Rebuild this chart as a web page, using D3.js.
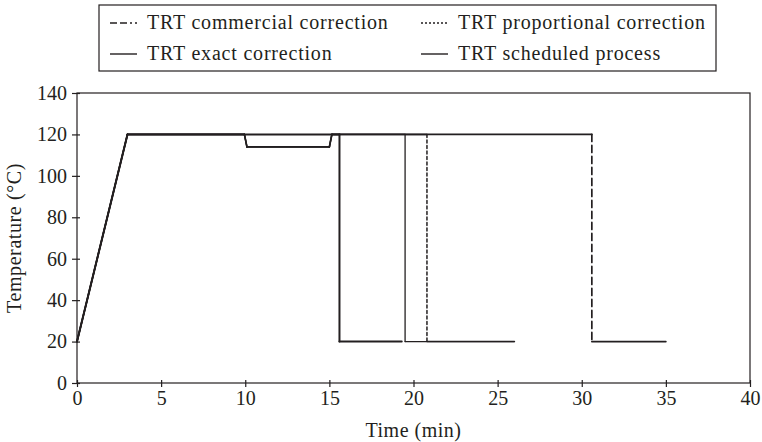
<!DOCTYPE html>
<html>
<head>
<meta charset="utf-8">
<script src="https://cdn.jsdelivr.net/npm/d3@7"></script>
<style>
  html, body { margin: 0; padding: 0; background: #fff; }
  svg { display: block; }
  text { font-family: "Liberation Serif", "Times New Roman", serif; fill: #231f20; }
</style>
</head>
<body>
<svg id="chart" width="762" height="442"></svg>
<script>
// Time axis ticks (min) and temperature axis ticks (°C)
const timeTicks = [0, 5, 10, 15, 20, 25, 30, 35, 40];
const tempTicks = [0, 20, 40, 60, 80, 100, 120, 140];

// Each thermal profile as [time (min), temperature (°C)] points
const scheduledProcess = [[0, 20], [3, 120], [15.6, 120], [15.6, 20], [19.3, 20]];
const exactCorrection = [[0, 20], [3, 120], [9.95, 120], [10.1, 114], [15.0, 114], [15.15, 120],
                         [19.5, 120], [19.5, 20], [26, 20]];
const proportionalCorrection = [[0, 20], [3, 120], [9.95, 120], [10.1, 114], [15.0, 114], [15.15, 120],
                                [20.8, 120], [20.8, 20], [26, 20]];
const commercialCorrection = [[0, 20], [3, 120], [9.95, 120], [10.1, 114], [15.0, 114], [15.15, 120],
                              [30.6, 120], [30.6, 20], [35, 20]];

const legendLabels = ["TRT commercial correction", "TRT proportional correction",
                      "TRT exact correction", "TRT scheduled process"];

const ink = "#231f20";
const svg = d3.select("#chart");

const x = d3.scaleLinear().domain([0, 40]).range([77, 750]);
const y = d3.scaleLinear().domain([0, 140]).range([383, 93]);

// Plot frame
svg.append("rect")
  .attr("x", x(0)).attr("y", y(140))
  .attr("width", x(40) - x(0)).attr("height", y(0) - y(140))
  .attr("fill", "none").attr("stroke", ink).attr("stroke-width", 1.2);

// Axes; tick marks cross the frame line
const xAxis = svg.append("g").attr("transform", `translate(0,${y(0)})`)
  .call(d3.axisBottom(x).tickValues(timeTicks).tickSizeInner(4).tickSizeOuter(0).tickPadding(4));
const yAxis = svg.append("g").attr("transform", `translate(${x(0)},0)`)
  .call(d3.axisLeft(y).tickValues(tempTicks).tickSizeInner(5).tickSizeOuter(0).tickPadding(5));

[xAxis, yAxis].forEach(g => {
  g.select(".domain").remove();
  g.selectAll("line").attr("stroke", ink).attr("stroke-width", 1.2);
  g.selectAll("text").attr("font-size", 20).attr("fill", ink)
    .style("font-family", "'Liberation Serif', serif");
});
xAxis.selectAll(".tick line").attr("y1", -3);
yAxis.selectAll(".tick line").attr("x1", 3);

// Axis titles
svg.append("text")
  .attr("x", (x(0) + x(40)) / 2).attr("y", 437)
  .attr("text-anchor", "middle").attr("font-size", 20)
  .attr("letter-spacing", 0.5)
  .text("Time (min)");
svg.append("text")
  .attr("transform", `translate(21,${(y(0) + y(140)) / 2}) rotate(-90)`)
  .attr("text-anchor", "middle").attr("font-size", 20)
  .attr("letter-spacing", 0.6)
  .text("Temperature (°C)");

// Draw a profile segment by segment: vertical cooling drops carry the series dash
function drawProfile(points, dash, width) {
  const segs = d3.pairs(points);
  svg.append("g").selectAll("line").data(segs).join("line")
    .attr("x1", d => x(d[0][0])).attr("y1", d => y(d[0][1]))
    .attr("x2", d => x(d[1][0])).attr("y2", d => y(d[1][1]))
    .attr("stroke", ink)
    .attr("stroke-width", width)
    .attr("stroke-linecap", "round")
    .attr("stroke-dasharray", d => (d[0][0] === d[1][0] && dash) ? dash : null);
}

drawProfile(commercialCorrection, "7,4", 1.7);
drawProfile(proportionalCorrection, "3,2.5", 1.5);
drawProfile(exactCorrection, null, 1.3);
drawProfile(scheduledProcess, null, 2);

// Legend
const lg = svg.append("g");
lg.append("rect").attr("x", 99).attr("y", 5).attr("width", 617).attr("height", 66)
  .attr("fill", "#fff").attr("stroke", ink).attr("stroke-width", 1.2);

const legendItems = [
  { label: legendLabels[0], dash: "7,3,7,3,2,3", col: 0, row: 0 },
  { label: legendLabels[1], dash: "2,2", col: 1, row: 0 },
  { label: legendLabels[2], dash: null, col: 0, row: 1 },
  { label: legendLabels[3], dash: null, col: 1, row: 1 }
];
const colX = [110, 421];
const rowY = [23, 54];
legendItems.forEach(it => {
  const lx = colX[it.col], ly = rowY[it.row];
  lg.append("line").attr("x1", lx).attr("x2", lx + 27).attr("y1", ly).attr("y2", ly)
    .attr("stroke", ink).attr("stroke-width", 1.4)
    .attr("stroke-dasharray", it.dash);
  lg.append("text").attr("x", lx + 37).attr("y", ly + 6)
    .attr("font-size", 20).attr("letter-spacing", 0.8).text(it.label);
});
</script>
</body>
</html>
